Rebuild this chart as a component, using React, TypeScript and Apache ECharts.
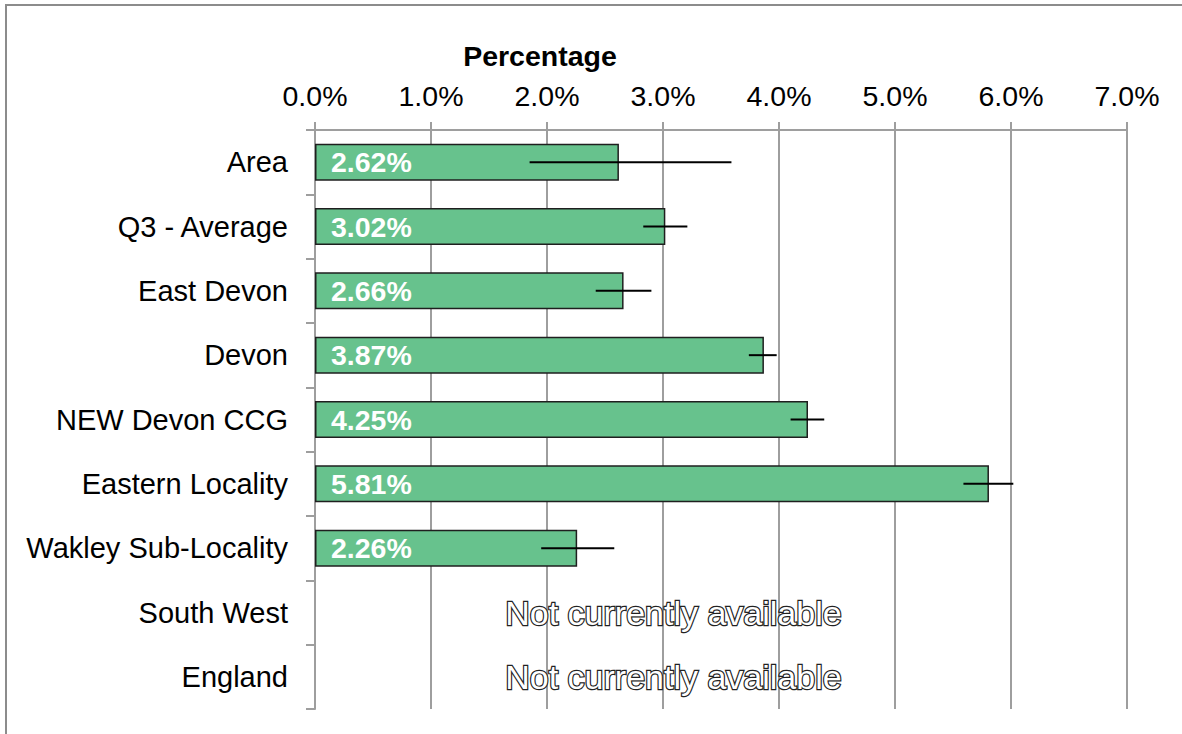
import React, { useEffect, useRef } from "react";
import * as echarts from "echarts";

const categories = [
  "Area",
  "Q3 - Average",
  "East Devon",
  "Devon",
  "NEW Devon CCG",
  "Eastern Locality",
  "Wakley Sub-Locality",
  "South West",
  "England",
];
const values: (number | null)[] = [2.62, 3.02, 2.66, 3.87, 4.25, 5.81, 2.26, null, null];
const lowerCI: (number | null)[] = [1.85, 2.83, 2.42, 3.74, 4.1, 5.59, 1.95, null, null];
const upperCI: (number | null)[] = [3.59, 3.21, 2.9, 3.98, 4.39, 6.02, 2.58, null, null];
const xTicks = [0, 1, 2, 3, 4, 5, 6, 7];
const naText = "Not currently available";
const naAnchor = 3.09;

export default function App() {
  const ref = useRef<HTMLDivElement>(null);
  useEffect(() => {
    if (!ref.current) return;
    const chart = echarts.init(ref.current, undefined, { renderer: "svg" });
    const font = "'Liberation Sans', Arial, sans-serif";
    const errData = values
      .map((v, i) => (v == null ? null : [lowerCI[i], upperCI[i], i]))
      .filter((d) => d != null);
    const naData = values
      .map((v, i) => (v == null ? [naAnchor, i] : null))
      .filter((d) => d != null);
    chart.setOption({
      animation: false,
      backgroundColor: "#ffffff",
      grid: { left: 315, right: 55, top: 130, bottom: 25, containLabel: false },
      xAxis: {
        type: "value",
        position: "top",
        min: xTicks[0],
        max: xTicks[xTicks.length - 1],
        interval: 1,
        axisLine: { show: true, lineStyle: { color: "#9e9e9e", width: 2 } },
        axisTick: { show: true, length: 8, lineStyle: { color: "#9e9e9e", width: 2 } },
        splitLine: { show: true, lineStyle: { color: "#9e9e9e", width: 2 } },
        axisLabel: {
          color: "#000",
          fontSize: 28.5,
          fontFamily: font,
          margin: 20,
          formatter: (v: number) => v.toFixed(1) + "%",
        },
      },
      yAxis: {
        type: "category",
        inverse: true,
        data: categories,
        axisLine: { show: true, lineStyle: { color: "#9e9e9e", width: 2 } },
        axisTick: { show: true, length: 9, alignWithLabel: false, lineStyle: { color: "#9e9e9e", width: 2 } },
        axisLabel: { color: "#000", fontSize: 29, fontFamily: font, margin: 27 },
        splitLine: { show: false },
      },
      graphic: [
        {
          type: "rect",
          shape: { x: 6, y: 5, width: 1300, height: 1000 },
          style: { fill: "none", stroke: "#8c8c8c", lineWidth: 2 },
          silent: true,
        },
        {
          type: "text",
          x: 540,
          y: 56,
          style: {
            text: "Percentage",
            fill: "#000",
            font: `bold 28.5px ${font}`,
            textAlign: "center",
            textVerticalAlign: "middle",
          },
        },
      ],
      series: [
        {
          type: "bar",
          data: values,
          barWidth: 37,
          itemStyle: { color: "#67c28d", borderColor: "#1f1f1f", borderWidth: 1.5 },
          label: {
            show: true,
            position: "insideLeft",
            distance: 16,
            color: "#fff",
            fontWeight: "bold",
            fontSize: 28.5,
            fontFamily: font,
            formatter: (p: any) => (p.value == null ? "" : p.value.toFixed(2) + "%"),
          },
          z: 2,
        },
        {
          type: "custom",
          data: errData,
          encode: { x: [0, 1], y: 2 },
          z: 5,
          renderItem: (params: any, api: any) => {
            const a = api.coord([api.value(0), api.value(2)]);
            const b = api.coord([api.value(1), api.value(2)]);
            return {
              type: "line",
              shape: { x1: a[0], y1: a[1], x2: b[0], y2: b[1] },
              style: { stroke: "#000", lineWidth: 2 },
            };
          },
        },
        {
          type: "custom",
          data: naData,
          encode: { x: 0, y: 1 },
          z: 6,
          renderItem: (params: any, api: any) => {
            const p = api.coord([api.value(0), api.value(1)]);
            const base = {
              text: naText,
              font: `34px ${font}`,
              textAlign: "center",
              textVerticalAlign: "middle",
            };
            return {
              type: "group",
              children: [
                {
                  type: "text",
                  x: p[0],
                  y: p[1],
                  style: { ...base, fill: "#222", stroke: "#222", lineWidth: 2.4 },
                },
                {
                  type: "text",
                  x: p[0],
                  y: p[1],
                  style: { ...base, fill: "#fff" },
                },
              ],
            };
          },
        },
      ],
    });
    return () => chart.dispose();
  }, []);
  return (
    <div
      ref={ref}
      style={{ position: "fixed", left: 0, top: 0, width: 1182, height: 734 }}
    />
  );
}
